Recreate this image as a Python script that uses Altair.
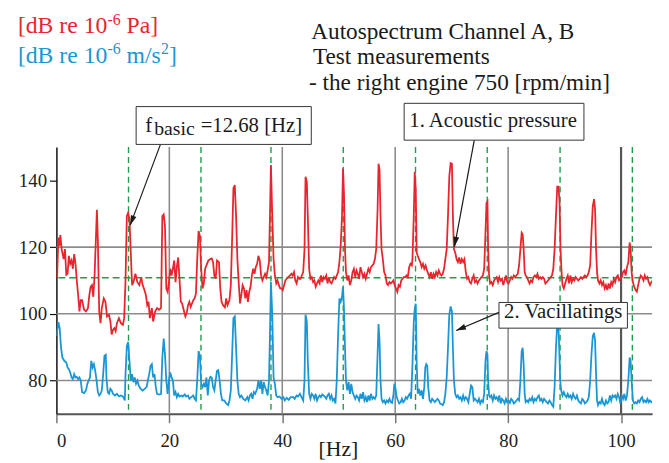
import altair as alt
import pandas as pd

# ---------------- data ----------------
red_hz = [
    0.12, 0.35, 0.52, 0.70, 0.93, 1.28, 1.52, 1.75, 1.98, 2.21,
    2.45, 2.68, 2.91, 3.15, 3.38, 3.61, 3.85, 4.08, 4.31, 4.55,
    4.90, 5.24, 5.59, 5.83, 6.06, 6.29, 6.53, 6.76, 6.99, 7.17,
    7.34, 7.58, 7.81, 8.04, 8.39, 8.68, 8.97, 9.32, 9.56, 9.79,
    10.02, 10.26, 10.49, 10.72, 11.07, 11.42, 11.77, 12.00, 12.24, 12.47,
    12.70, 12.94, 13.17, 13.40, 13.64, 13.99, 14.34, 14.69, 15.03, 15.27,
    15.50, 15.85, 16.08, 16.32, 16.55, 16.90, 17.13, 17.48, 17.83, 18.18,
    18.53, 18.76, 19.00, 19.23, 19.46, 19.70, 19.93, 20.16, 20.40,
    20.63, 20.86, 21.10, 21.33, 21.56, 21.80, 22.03, 22.26, 22.61, 22.84,
    23.08, 23.31, 23.54, 23.78, 24.01, 24.24, 24.48, 24.71, 24.94, 25.18,
    25.41, 25.64, 25.87, 26.11, 26.34, 26.57, 26.92, 27.27, 27.51, 27.74,
    27.97, 28.21, 28.44, 28.79, 29.02, 29.25, 29.49, 29.84, 30.07, 30.30,
    30.65, 30.89, 31.12, 31.35, 31.59, 31.82, 32.05, 32.28, 32.52, 32.75,
    32.98, 33.22, 33.45, 33.68, 33.92, 34.15, 34.38, 34.62, 34.85, 35.08,
    35.31, 35.55, 35.78, 36.01, 36.25, 36.48, 36.71, 36.95, 37.18, 37.41,
    37.65, 37.82, 37.99, 38.23, 38.46, 38.69, 38.93, 39.16, 39.39, 39.63,
    39.86, 40.09, 40.33, 40.56, 40.79, 41.03, 41.38,
    41.61, 41.84, 42.08, 42.31, 42.54, 42.78, 43.01, 43.24, 43.47, 43.71,
    43.94, 44.12, 44.35, 44.52, 44.76, 44.99, 45.22, 45.46, 45.69, 45.92,
    46.16, 46.39, 46.62, 46.85, 47.09, 47.32, 47.55, 47.79, 48.02, 48.25,
    48.49, 48.72, 48.95, 49.19, 49.42, 49.65, 49.89, 50.12, 50.35, 50.58,
    50.76, 50.93, 51.11, 51.28, 51.52, 51.75, 51.98, 52.22, 52.45, 52.68,
    52.92, 53.15, 53.38, 53.61, 53.85, 54.08, 54.31, 54.55, 54.78, 55.01,
    55.25, 55.48, 55.71, 55.95, 56.18, 56.41, 56.64, 56.88, 57.05, 57.23,
    57.40, 57.58, 57.81, 58.04, 58.28, 58.51, 58.74, 58.98, 59.21, 59.44,
    59.68, 59.91, 60.14, 60.37, 60.61, 60.84, 61.07, 61.31, 61.54, 61.77,
    62.01, 62.24, 62.47, 62.71, 62.94,
    63.06, 63.29, 63.46, 63.64, 63.81, 63.99, 64.22, 64.45, 64.69, 64.92,
    65.15, 65.39, 65.62, 65.85, 66.09, 66.32, 66.55, 66.79, 67.02, 67.25,
    67.49, 67.72, 67.95, 68.18, 68.42, 68.65, 68.88, 69.12, 69.35, 69.58,
    69.82, 70.05, 70.22, 70.40, 70.63, 70.87, 71.10, 71.33, 71.56, 71.80,
    72.03, 72.26, 72.50, 72.73, 72.96, 73.20, 73.43, 73.66, 73.90, 74.13,
    74.36, 74.59, 74.83, 75.06, 75.29, 75.53, 75.76, 75.99, 76.17, 76.34,
    76.46, 76.63, 76.81, 77.04, 77.28, 77.51, 77.74, 77.97, 78.21, 78.44,
    78.67, 78.91, 79.14, 79.37, 79.61, 79.84, 80.07, 80.31, 80.54, 80.77,
    81.01, 81.24, 81.47, 81.70, 81.94, 82.17, 82.40, 82.58, 82.75, 82.93,
    83.10, 83.34,
    83.57, 83.80, 84.04, 84.27, 84.50, 84.74, 84.97, 85.20, 85.43, 85.67,
    85.90, 86.13, 86.37, 86.60, 86.83, 87.07, 87.30, 87.53, 87.77, 88.00,
    88.23, 88.47, 88.70, 88.93, 89.11, 89.28, 89.46, 89.63, 89.86, 90.10,
    90.33, 90.56, 90.80, 91.03, 91.26, 91.50, 91.73, 91.96, 92.19, 92.43,
    92.66, 92.89, 93.13, 93.36, 93.59, 93.83, 94.06, 94.29, 94.53, 94.76,
    94.99, 95.22, 95.40, 95.57, 95.75, 95.92, 96.16, 96.39, 96.62, 96.86,
    97.09, 97.32, 97.56, 97.79, 98.02, 98.26, 98.49, 98.72, 98.95, 99.19,
    99.42, 99.65, 99.89, 100.12, 100.35, 100.59, 100.82, 101.05, 101.29, 101.52,
    101.69, 101.87, 102.10, 102.33, 102.57, 102.80, 103.03, 103.27, 103.50, 103.73,
    103.97, 104.20, 104.43, 104.67, 104.90, 105.13, 105.36, 105.60,
]
red_db = [
    111.0, 122.9, 120.4, 123.6, 119.4, 116.4, 119.4, 111.7, 112.0, 117.4,
    115.0, 116.0, 113.5, 117.9, 115.0, 110.0, 105.6, 100.7, 104.1, 104.1,
    101.2, 100.7, 101.7, 105.6, 108.1, 108.6, 105.1, 111.5, 122.4, 131.2,
    122.4, 100.7, 97.2, 101.7, 104.6, 103.6, 99.2, 99.7, 97.7, 93.8,
    95.2, 95.7, 94.8, 97.2, 98.7, 97.2, 96.7, 98.7, 110.0, 129.3,
    130.3, 128.3, 118.4, 108.6, 109.5, 112.0, 109.5, 108.6, 111.0, 108.6,
    107.6, 105.6, 102.6, 103.6, 98.7, 101.7, 97.7, 100.7, 101.7, 101.2,
    101.7, 129.3, 129.8, 126.3, 107.6, 106.6, 109.5, 113.5, 111.5,
    113.5, 116.0, 109.5, 114.0, 116.9, 110.5, 103.6, 103.1, 100.7, 99.2,
    100.2, 102.6, 103.6, 102.1, 103.1, 104.1, 104.6, 106.1, 116.4, 124.8,
    123.4, 113.5, 107.6, 109.1, 113.5, 114.5, 116.0, 116.4, 116.6, 115.5,
    111.5, 110.5, 116.0, 115.5, 107.6, 103.6, 102.6, 101.9, 104.6, 102.6,
    104.1, 108.6, 122.4, 137.7, 138.6, 129.3, 116.4, 109.5, 103.1, 105.6,
    108.6, 107.6, 104.6, 107.1, 103.6, 106.6, 108.1, 111.5, 113.5, 112.0,
    114.0, 115.0, 117.4, 116.0, 111.5, 110.0, 111.0, 112.0, 111.0, 113.0,
    115.5, 129.3, 144.6, 129.3, 116.4, 111.5, 109.1, 110.0, 108.6, 107.6,
    107.6, 107.1, 108.6, 110.0, 110.5, 111.0, 111.5,
    112.0, 111.5, 112.5, 110.0, 109.1, 111.0, 110.5, 110.5, 111.5, 112.5,
    119.4, 141.1, 139.6, 129.3, 113.5, 110.5, 111.0, 109.5, 110.0, 108.1,
    109.1, 110.0, 109.1, 111.5, 109.5, 111.0, 110.5, 111.5, 109.1, 111.0,
    109.5, 109.1, 110.0, 111.0, 110.5, 111.5, 112.5, 115.5, 120.4, 129.3,
    143.6, 136.2, 119.4, 112.5, 110.0, 111.5, 108.6, 110.0, 112.5, 113.5,
    111.0, 113.0, 112.0, 110.5, 114.0, 112.5, 111.0, 112.0, 110.5, 112.0,
    113.5, 112.5, 114.0, 114.5, 115.0, 116.4, 119.4, 131.2, 145.0, 143.1,
    129.3, 119.4, 116.4, 112.5, 111.5, 109.1, 108.6, 109.5, 109.1, 109.5,
    110.0, 108.6, 107.6, 106.6, 108.6, 108.1, 110.0, 110.5, 111.0, 111.0,
    111.5, 111.0, 114.0, 115.0, 114.5,
    116.4, 129.3, 142.6, 137.2, 118.4, 117.4, 116.4, 115.5, 114.0, 115.0,
    113.5, 114.5, 113.0, 112.0, 111.0, 112.5, 110.5, 112.0, 111.0, 112.5,
    111.5, 113.0, 112.0, 111.5, 112.0, 113.5, 116.4, 119.4, 129.3, 141.1,
    145.2, 145.0, 129.3, 119.4, 118.4, 116.4, 115.5, 116.9, 115.0, 116.4,
    115.5, 116.4, 112.5, 110.5, 111.0, 109.5, 109.1, 110.5, 111.5, 109.5,
    110.0, 109.1, 110.0, 110.5, 111.0, 111.5, 113.5, 124.3, 133.2, 133.7,
    119.4, 111.5, 109.1, 109.5, 108.6, 110.0, 110.5, 111.0, 109.5, 111.0,
    110.0, 110.5, 108.6, 110.0, 111.5, 109.5, 109.1, 110.0, 111.0, 110.5,
    111.5, 111.0, 111.5, 112.0, 114.5, 119.4, 124.3, 123.8, 119.4, 112.5,
    111.5, 111.0,
    110.0, 109.1, 110.0, 109.5, 111.0, 111.5, 111.0, 112.0, 110.5, 111.0,
    110.5, 111.0, 110.5, 109.1, 109.5, 110.0, 110.5, 111.0, 111.5, 113.5,
    119.4, 129.3, 138.1, 138.1, 133.2, 119.4, 112.5, 108.6, 107.6, 109.1,
    110.5, 111.5, 109.1, 111.5, 109.5, 110.5, 110.0, 111.0, 110.5, 110.0,
    110.5, 111.0, 110.5, 111.0, 111.5, 111.0, 111.5, 112.5, 114.5, 124.3,
    132.2, 134.4, 131.2, 119.4, 112.5, 110.0, 109.1, 110.0, 108.6, 109.5,
    107.6, 108.6, 107.1, 109.1, 107.6, 109.5, 108.6, 110.5, 109.5, 111.0,
    111.5, 110.0, 110.5, 111.0, 112.5, 113.0, 111.5, 114.0, 115.5, 121.4,
    119.4, 112.5, 109.5, 108.1, 107.1, 106.6, 108.6, 110.5, 111.5, 111.0,
    110.0, 111.5, 110.5, 111.0, 109.5, 108.6, 109.5, 110.0,
]

blue_hz = [
    0.00, 0.35, 0.58, 0.82, 1.05, 1.40, 1.75, 1.98, 2.21, 2.45,
    2.68, 2.91, 3.15, 3.38, 3.61, 3.85, 4.08, 4.31, 4.55, 4.90,
    5.24, 5.48, 5.71, 5.94, 6.18, 6.41, 6.64, 6.88, 7.11, 7.34,
    7.58, 7.81, 8.04, 8.28, 8.51, 8.74, 8.86, 9.09, 9.32, 9.56,
    9.79, 10.02, 10.37, 10.72, 11.07, 11.42, 11.77, 12.00, 12.12, 12.24,
    12.47, 12.70, 12.94, 13.17, 13.40, 13.64, 13.87, 14.10, 14.34, 14.57,
    14.92, 15.27, 15.62, 15.97, 16.20, 16.43, 16.67, 16.90, 17.13, 17.37,
    17.60, 17.83, 18.18, 18.53, 18.76, 19.00, 19.23, 19.46, 19.70, 19.93,
    20.16, 20.40,
    20.63, 20.86, 21.10, 21.33, 21.56, 21.80, 22.15, 22.38, 22.73, 22.96,
    23.31, 23.54, 23.89, 24.24, 24.48, 24.71, 24.94, 25.18, 25.41, 25.64,
    25.87, 26.11, 26.34, 26.57, 26.81, 27.04, 27.27, 27.51, 27.74, 27.97,
    28.21, 28.44, 28.67, 28.90, 29.14, 29.37, 29.72, 30.07, 30.42, 30.65,
    30.89, 31.12, 31.35, 31.59, 31.82, 32.05, 32.28, 32.52, 32.75, 33.10,
    33.45, 33.80, 34.03, 34.27, 34.50, 34.73, 34.97, 35.20, 35.55, 35.78,
    36.01, 36.25, 36.48, 36.71, 36.95, 37.18, 37.41, 37.65, 37.82, 37.99,
    38.23, 38.46, 38.69, 38.93, 39.16, 39.51, 39.86, 40.21, 40.44, 40.79,
    41.14, 41.49,
    41.61, 41.96, 42.19, 42.54, 42.78, 43.13, 43.47, 43.71, 43.94, 44.12,
    44.35, 44.52, 44.76, 44.99, 45.22, 45.46, 45.69, 45.92, 46.16, 46.39,
    46.62, 46.85, 47.09, 47.32, 47.55, 47.79, 48.02, 48.25, 48.49, 48.72,
    48.95, 49.19, 49.42, 49.65, 49.89, 50.12, 50.35, 50.58, 50.76, 50.93,
    51.11, 51.28, 51.52, 51.75, 51.98, 52.22, 52.45, 52.68, 52.92, 53.15,
    53.38, 53.61, 53.85, 54.08, 54.31, 54.55, 54.78, 55.01, 55.25, 55.48,
    55.71, 55.95, 56.18, 56.41, 56.64, 56.88, 57.05, 57.23, 57.40, 57.58,
    57.81, 58.04, 58.28, 58.51, 58.74, 58.98, 59.21, 59.44, 59.68, 59.85,
    60.02, 60.26, 60.49, 60.72, 60.96, 61.19, 61.42, 61.66, 61.89, 62.12,
    62.36, 62.59, 62.82,
    63.06, 63.29, 63.46, 63.64, 63.81, 63.99, 64.22, 64.45, 64.69, 64.92,
    65.15, 65.33, 65.50, 65.68, 65.85, 66.09, 66.32, 66.55, 66.79, 67.02,
    67.25, 67.49, 67.72, 67.95, 68.18, 68.42, 68.65, 68.88, 69.12, 69.35,
    69.58, 69.82, 70.05, 70.22, 70.40, 70.63, 70.87, 71.10, 71.33, 71.56,
    71.80, 72.03, 72.26, 72.50, 72.73, 72.96, 73.20, 73.43, 73.66, 73.90,
    74.13, 74.36, 74.59, 74.83, 75.06, 75.29, 75.53, 75.76, 75.99, 76.17,
    76.34, 76.46, 76.63, 76.81, 77.04, 77.28, 77.51, 77.74, 77.97, 78.21,
    78.44, 78.67, 78.91, 79.14, 79.37, 79.61, 79.84, 80.07, 80.31, 80.54,
    80.77, 81.01, 81.24, 81.47, 81.70, 81.94, 82.17, 82.40, 82.58, 82.75,
    82.93, 83.10, 83.34,
    83.57, 83.80, 84.04, 84.27, 84.50, 84.74, 84.97, 85.20, 85.43, 85.67,
    85.90, 86.13, 86.37, 86.60, 86.83, 87.07, 87.30, 87.53, 87.77, 88.00,
    88.23, 88.47, 88.70, 88.87, 89.05, 89.22, 89.40, 89.63, 89.86, 90.10,
    90.33, 90.56, 90.80, 91.03, 91.26, 91.50, 91.73, 91.96, 92.19, 92.43,
    92.66, 92.89, 93.13, 93.36, 93.59, 93.83, 94.06, 94.29, 94.53, 94.76,
    94.99, 95.22, 95.40, 95.57, 95.75, 95.92, 96.16, 96.39, 96.62, 96.86,
    97.09, 97.32, 97.56, 97.79, 98.02, 98.26, 98.49, 98.72, 98.95, 99.19,
    99.42, 99.65, 99.89, 100.12, 100.35, 100.59, 100.82, 101.05, 101.29, 101.52,
    101.69, 101.87, 102.10, 102.33, 102.57, 102.80, 103.03, 103.27, 103.50, 103.73,
    103.97, 104.20, 104.43, 104.67, 104.90, 105.13, 105.36, 105.60,
]
blue_db = [
    93.3, 97.5, 95.7, 89.8, 86.9, 85.9, 85.4, 83.9, 83.4, 82.4,
    80.9, 80.4, 81.9, 80.9, 81.1, 80.4, 80.9, 80.0, 76.5, 76.2,
    77.0, 79.0, 80.0, 80.9, 85.9, 83.9, 84.9, 82.9, 80.0, 76.5,
    75.5, 76.0, 77.0, 81.9, 87.4, 87.7, 80.9, 76.5, 76.0, 77.5,
    77.0, 76.0, 75.5, 76.0, 75.2, 75.5, 75.2, 74.5, 74.0, 81.9,
    90.3, 91.5, 85.9, 80.0, 81.9, 79.5, 80.9, 79.0, 80.0, 78.5,
    77.5, 77.0, 77.5, 78.0, 80.0, 81.9, 84.4, 84.9, 80.9, 81.9,
    78.0, 76.0, 75.8, 76.0, 86.9, 92.6, 87.8, 80.0, 76.0, 80.0,
    82.4, 80.9,
    80.0, 75.5, 76.5, 75.0, 76.0, 75.2, 75.5, 75.2, 75.8, 75.2,
    75.5, 74.5, 75.0, 75.5, 74.5, 74.0, 80.0, 88.8, 87.4, 79.0,
    78.0, 79.0, 78.0, 80.9, 75.5, 80.0, 81.1, 80.9, 78.0, 77.0,
    80.0, 82.9, 83.1, 80.0, 76.0, 74.0, 74.0, 73.1, 72.6, 74.0,
    77.0, 87.8, 98.7, 99.2, 89.8, 80.0, 76.0, 75.0, 75.5, 74.5,
    74.0, 75.0, 74.0, 75.5, 76.0, 74.5, 76.5, 76.0, 77.5, 80.0,
    77.5, 80.0, 76.0, 79.5, 78.0, 77.0, 75.5, 80.0, 93.8, 109.5,
    99.7, 80.9, 79.0, 75.5, 75.0, 75.2, 74.5, 75.0, 74.0, 74.8,
    74.2, 75.0,
    75.0, 75.0, 74.5, 75.5, 75.2, 76.0, 74.8, 74.0, 80.0, 99.7,
    97.7, 85.9, 76.0, 74.5, 76.0, 75.5, 74.5, 76.0, 74.0, 75.0,
    75.5, 75.0, 75.8, 75.5, 75.2, 74.5, 75.5, 76.0, 74.5, 75.5,
    74.0, 74.5, 73.1, 80.0, 93.8, 104.6, 103.6, 105.1, 108.1, 101.7,
    89.8, 80.0, 77.0, 79.5, 76.0, 79.0, 76.5, 75.5, 74.5, 75.5,
    75.0, 74.0, 76.0, 74.5, 76.5, 74.0, 75.0, 73.5, 75.5, 74.0,
    76.0, 74.5, 75.0, 74.5, 75.5, 87.8, 96.9, 91.8, 80.0, 74.5,
    73.5, 74.0, 73.1, 74.0, 73.5, 74.5, 73.5, 73.3, 75.5, 79.0,
    78.0, 75.0, 74.0, 73.1, 73.5, 74.5, 73.5, 74.0, 75.0, 74.5,
    75.5, 76.0, 74.5,
    84.9, 97.7, 101.5, 103.0, 85.0, 76.0, 77.5, 75.5, 77.0, 74.5,
    78.0, 83.9, 84.9, 84.4, 78.0, 74.0, 73.5, 74.5, 74.0, 73.5,
    74.0, 74.5, 74.0, 73.1, 72.9, 72.6, 73.5, 76.0, 80.9, 89.8,
    99.7, 102.2, 100.7, 89.8, 80.0, 76.0, 75.0, 75.5, 74.5, 75.0,
    74.0, 75.5, 74.2, 75.0, 74.5, 73.5, 76.0, 78.5, 78.0, 74.0,
    74.5, 74.0, 73.5, 74.5, 73.1, 74.0, 73.5, 76.0, 85.9, 88.8,
    87.8, 80.0, 75.5, 75.0, 75.5, 74.0, 75.5, 74.5, 75.0, 74.0,
    75.5, 73.1, 74.5, 74.0, 73.1, 74.5, 73.5, 74.0, 73.3, 74.5,
    74.0, 73.1, 73.5, 74.0, 74.5, 74.0, 80.0, 88.8, 89.8, 84.9,
    76.0, 73.5, 74.0,
    73.5, 74.5, 74.0, 75.0, 73.5, 74.5, 74.0, 75.0, 75.5, 74.0,
    74.5, 73.5, 74.5, 74.0, 73.5, 73.1, 74.0, 73.5, 72.6, 72.1,
    78.0, 89.8, 97.2, 97.7, 89.8, 80.0, 77.0, 75.5, 76.5, 75.5,
    75.0, 76.0, 75.0, 75.5, 74.5, 76.0, 75.0, 74.5, 75.5, 74.0,
    73.5, 73.1, 74.5, 74.0, 73.1, 73.5, 74.0, 75.0, 80.0, 87.8,
    93.3, 94.3, 91.8, 81.9, 74.0, 72.6, 73.5, 73.1, 74.5, 73.1,
    72.6, 74.0, 73.1, 73.5, 75.5, 74.0, 75.5, 75.0, 75.5, 74.5,
    76.0, 75.0, 73.1, 75.5, 74.5, 76.0, 74.0, 75.5, 80.0, 86.9,
    85.9, 80.0, 74.0, 73.1, 73.5, 73.1, 74.0, 73.5, 74.5, 75.0,
    73.5, 74.0, 73.5, 74.5, 73.5, 74.0, 73.5, 73.8,
]

harmonics_hz = [12.77, 25.6, 38.0, 50.8, 63.6, 76.3, 89.2, 102.0]
mean_level_db = [110.8]
grid_db = [80, 100, 120]
grid_hz = [20, 40, 60, 80]
grid_hz_dark = [100]
x_ticks = [0, 20, 40, 60, 80, 100]
y_ticks = [80, 100, 120, 140]

# ---------------- style ----------------
RED = "#e8252d"
BLUE = "#1a96d4"
GREEN = "#1f9e4a"
GRID = "#8c8c8c"
INK = "#1a1a1a"
FONT = "Liberation Serif"

W, H = 603, 270
xs = alt.Scale(domain=[0, 105.5], nice=False, zero=False)
ys = alt.Scale(domain=[70, 150], nice=False, zero=False)

X_AX = alt.Axis(
    values=x_ticks, title=None, grid=False, format="d",
    domain=True, domainColor="#555555", domainWidth=2,
    ticks=True, tickSize=9, tickColor="#777777", tickWidth=1.5,
    labels=True, labelFont=FONT, labelFontSize=19, labelColor="#222222", labelPadding=9,
)
Y_AX = alt.Axis(
    values=y_ticks, title=None, grid=False, format="d",
    domain=True, domainColor="#111111", domainWidth=1.5,
    ticks=True, tickSize=7, tickColor="#111111", tickWidth=1.2,
    labels=True, labelFont=FONT, labelFontSize=19, labelColor="#222222", labelPadding=3,
)

red_df = pd.DataFrame({"hz": red_hz, "db": red_db})
blue_df = pd.DataFrame({"hz": blue_hz, "db": blue_db})
one = pd.DataFrame({"k": [0]})

hgrid = alt.Chart(pd.DataFrame({"db": grid_db})).mark_rule(
    color=GRID, strokeWidth=1.6
).encode(y=alt.Y("db:Q", scale=ys, axis=Y_AX))

vgrid = alt.Chart(pd.DataFrame({"hz": grid_hz})).mark_rule(
    color=GRID, strokeWidth=1.6
).encode(x=alt.X("hz:Q", scale=xs, axis=X_AX))

vgrid_dark = alt.Chart(pd.DataFrame({"hz": grid_hz_dark})).mark_rule(
    color="#555555", strokeWidth=2.2
).encode(x=alt.X("hz:Q", scale=xs, axis=X_AX))

harm = alt.Chart(pd.DataFrame({"hz": harmonics_hz})).mark_rule(
    color=GREEN, strokeWidth=1.4, strokeDash=[6, 4]
).encode(x=alt.X("hz:Q", scale=xs, axis=X_AX))

mean_line = alt.Chart(pd.DataFrame({"db": mean_level_db})).mark_rule(
    color=GREEN, strokeWidth=1.4, strokeDash=[7, 4]
).encode(y=alt.Y("db:Q", scale=ys, axis=Y_AX))

red_line = alt.Chart(red_df).mark_line(color=RED, strokeWidth=1.8, clip=True).encode(
    x=alt.X("hz:Q", scale=xs, axis=X_AX),
    y=alt.Y("db:Q", scale=ys, axis=Y_AX),
)

blue_line = alt.Chart(blue_df).mark_line(color=BLUE, strokeWidth=1.8, clip=True).encode(
    x=alt.X("hz:Q", scale=xs, axis=X_AX),
    y=alt.Y("db:Q", scale=ys, axis=Y_AX),
)


def text(s, x, y, size=21, color=INK, align="left"):
    return alt.Chart(one).mark_text(
        text=s, font=FONT, fontSize=size, color=color, align=align, baseline="alphabetic"
    ).encode(x=alt.value(x), y=alt.value(y))


def box(x1, x2, y1, y2):
    return alt.Chart(one).mark_rect(
        fill="white", stroke="#333333", strokeWidth=1
    ).encode(x=alt.value(x1), x2=alt.value(x2), y=alt.value(y1), y2=alt.value(y2))


def arrow(x1, y1, x2, y2, angle):
    shaft = alt.Chart(one).mark_rule(color=INK, strokeWidth=1.2).encode(
        x=alt.value(x1), y=alt.value(y1), x2=alt.value(x2), y2=alt.value(y2)
    )
    head = alt.Chart(one).mark_point(
        shape="M0,0L-0.42,1.4L0.42,1.4Z", filled=True, color=INK, opacity=1,
        size=200, angle=angle,
    ).encode(x=alt.value(x2), y=alt.value(y2))
    return [shaft, head]


# header: unit labels built from pieces so that the exponents are real superscripts
units = [
    text("[dB re 10", -39, -115, 24, RED),
    text("-6", 51.6, -124, 16, RED),
    text("Pa]", 71, -115, 24, RED),
    text("[dB re 10", -39, -85, 24, BLUE),
    text("-6", 51.6, -94, 16, BLUE),
    text("m/s", 71, -85, 24, BLUE),
    text("2", 106, -94, 16, BLUE),
    text("]", 114, -85, 24, BLUE),
]

layers = [hgrid, vgrid, vgrid_dark, harm, mean_line, red_line, blue_line]
layers += arrow(105.3, -2.7, 74.7, 79.0, 200.5)
layers += arrow(423.0, -7.0, 403.0, 100.7, 190.5)
layers += arrow(448.0, 167.3, 404.7, 185.7, 247.0)
layers += [
    box(80.7, 258.0, -41.0, -2.7),
    text("f", 90, -15.3, 21),
    text("basic", 99, -12, 20),
    text("=12.68 [Hz]", 146, -15.3, 21),
    box(352.0, 534.0, -44.3, -7.0),
    text("1. Acoustic pressure", 442, -20, 21, align="center"),
    box(448.0, 578.0, 157.3, 183.3),
    text("2. Vacillatings", 513, 173.3, 21, align="center"),
    text("Autospectrum Channel A, B", 258, -109, 23.5),
    text("Test measurements", 259.7, -84, 23.5),
    text("- the right engine 750 [rpm/min]", 255.7, -58, 23.5),
    text("[Hz]", 285.5, 313, 22, align="center"),
]
layers += units

chart = alt.layer(*layers).properties(
    width=W, height=H,
    autosize=alt.AutoSizeParams(type="none"),
    padding={"left": 49, "top": 138, "right": 9, "bottom": 47},
    background="white",
).configure_view(strokeOpacity=0)

chart.save("out.html", embed_options={"renderer": "svg", "actions": False})
